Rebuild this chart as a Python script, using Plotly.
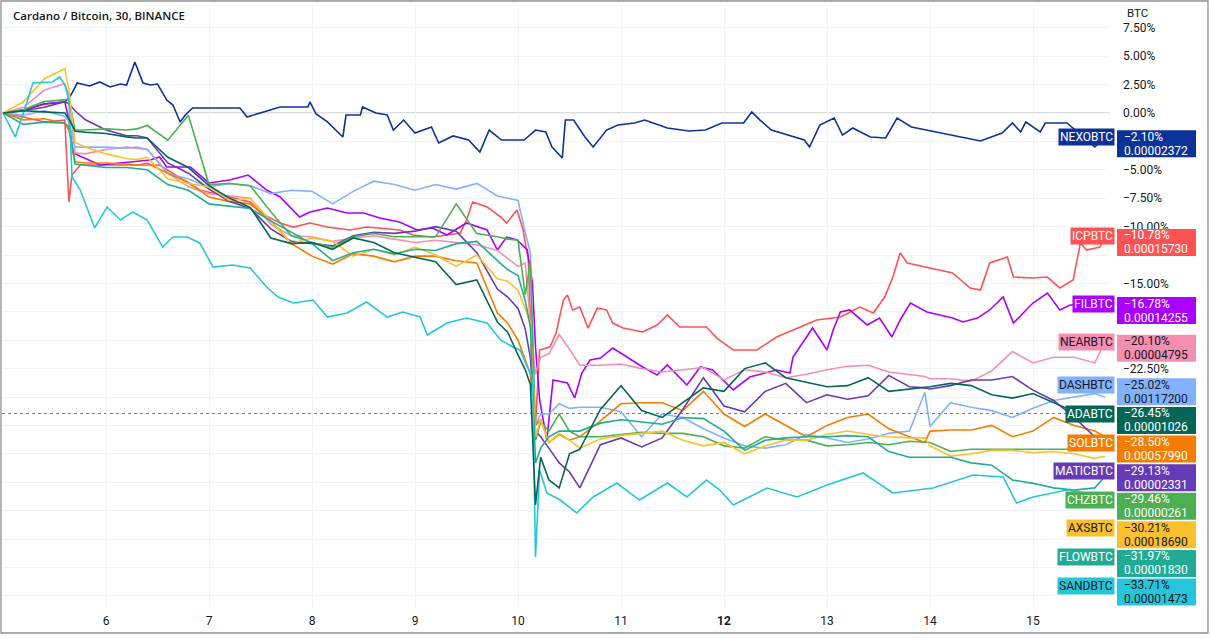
import plotly.graph_objects as go

# ---- data (percent change vs first bar; time in days of the month) ----
T = [5.0, 5.2, 5.4, 5.6, 5.64, 5.7, 5.8, 6.0, 6.2, 6.3, 6.4, 6.6, 6.8, 7.0, 7.2, 7.4, 7.6, 7.8,
     8.0, 8.2, 8.4, 8.6, 8.8, 9.0, 9.2, 9.4, 9.6, 9.8, 9.9, 10.0, 10.07, 10.12, 10.17, 10.22,
     10.3, 10.4, 10.5, 10.6, 10.8, 11.0, 11.2, 11.4, 11.6, 11.8, 12.0, 12.2, 12.4, 12.6, 12.8,
     13.0, 13.2, 13.4, 13.6, 13.8, 13.95, 14.0, 14.2, 14.4, 14.6, 14.8, 15.0, 15.2, 15.4, 15.6, 15.7]

NEXO_T = [5.00, 5.20, 5.40, 5.60, 5.64, 5.67, 5.72, 5.84, 5.94, 6.04, 6.14, 6.20, 6.28, 6.36, 6.43, 6.50,
          6.59, 6.65, 6.72, 6.77, 6.84, 7.30, 7.37, 7.56, 7.69, 7.96, 7.98, 8.04, 8.15, 8.30, 8.33, 8.47,
          8.49, 8.62, 8.73, 8.79, 8.89, 9.00, 9.16, 9.23, 9.37, 9.52, 9.63, 9.72, 9.84, 10.06, 10.17, 10.27,
          10.33, 10.43, 10.46, 10.54, 10.65, 10.73, 10.86, 10.97, 11.13, 11.23, 11.45, 11.66, 11.82, 11.98,
          12.19, 12.27, 12.35, 12.46, 12.62, 12.78, 12.83, 12.93, 13.07, 13.15, 13.25, 13.42, 13.57, 13.68,
          13.82, 14.49, 14.70, 14.80, 14.88, 14.93, 15.07, 15.12, 15.33, 15.60, 15.70]
NEXO = [0.0, 0.26, 0.79, 0.97, 1.32, 1.76, 2.64, 2.38, 2.73, 2.29, 2.55, 2.46, 4.49, 2.64, 2.46, 2.55,
        1.14, 0.70, -0.79, -0.18, 0.44, 0.44, -0.35, 0.18, 0.53, 0.53, 0.97, -0.09, -0.79, -2.11, -0.18, -0.18,
        0.53, 0.0, -0.18, -1.50, -0.62, -1.76, -1.23, -2.64, -2.02, -2.38, -3.43, -1.50, -2.38, -2.38, -1.50, -1.67,
        -2.99, -3.96, -0.62, -0.62, -2.11, -2.99, -1.50, -1.06, -0.88, -0.62, -1.32, -1.58, -1.50, -0.88,
        -0.88, 0.09, -0.62, -1.50, -1.94, -2.38, -2.99, -1.06, -0.44, -1.94, -1.32, -2.11, -2.20, -0.44,
        -1.23, -2.46, -1.76, -0.88, -1.67, -0.79, -1.67, -0.88, -0.88, -2.99, -2.10]

ICP_T = [5.00, 5.20, 5.40, 5.60, 5.64, 5.67, 5.75, 6.52, 6.91, 7.40, 7.50, 7.69, 7.82, 7.98, 8.15, 8.37,
         8.53, 8.85, 8.98, 9.17, 9.31, 9.44, 9.50, 9.56, 9.70, 9.83, 9.89, 9.99, 10.05, 10.10, 10.14, 10.17,
         10.21, 10.31, 10.37, 10.44, 10.48, 10.53, 10.60, 10.68, 10.77, 10.86, 10.92, 11.02, 11.21, 11.35,
         11.45, 11.57, 11.83, 11.93, 12.09, 12.32, 12.51, 12.74, 12.90, 13.13, 13.32, 13.45, 13.56, 13.64,
         13.71, 13.78, 13.97, 14.22, 14.39, 14.49, 14.58, 14.75, 14.81, 15.00, 15.14, 15.26, 15.39, 15.46,
         15.52, 15.65, 15.70]
ICP = [0.0, -0.35, -0.79, -0.62, -7.83, -5.46, -4.58, -4.58, -6.78, -7.83, -8.80, -9.68, -10.04, -9.68, -10.04, -10.30,
       -10.04, -10.30, -10.74, -10.92, -10.74, -10.56, -9.42, -7.83, -8.27, -9.15, -9.68, -8.54, -10.30, -12.94, -23.24, -27.46,
       -20.86, -20.60, -19.37, -16.46, -16.02, -17.34, -17.08, -18.93, -17.17, -17.34, -18.49, -18.93, -19.28, -18.66,
       -17.78, -18.84, -18.84, -19.81, -20.86, -20.86, -19.72, -18.84, -18.22, -17.96, -17.08, -17.61, -16.20, -14.44,
       -12.32, -13.20, -13.56, -14.08, -15.41, -15.58, -13.20, -12.68, -14.44, -14.53, -14.44, -15.41, -14.70, -11.44,
       -12.06, -11.80, -10.78]

FIL_T = [5.00, 5.20, 5.40, 5.60, 5.64, 5.68, 5.94, 6.43, 6.52, 6.59, 6.82, 7.00, 7.20, 7.38, 7.56, 7.69,
         7.88, 7.98, 8.15, 8.34, 8.50, 8.66, 8.85, 9.02, 9.17, 9.31, 9.50, 9.70, 9.80, 9.89, 9.99, 10.09,
         10.14, 10.17, 10.21, 10.28, 10.34, 10.48, 10.55, 10.62, 10.70, 10.80, 10.92, 11.06, 11.21, 11.35,
         11.45, 11.64, 11.77, 11.89, 12.09, 12.25, 12.51, 12.64, 12.67, 12.86, 13.00, 13.06, 13.13, 13.22,
         13.39, 13.51, 13.63, 13.71, 13.81, 13.97, 14.22, 14.32, 14.46, 14.58, 14.71, 14.81, 15.00, 15.14,
         15.26, 15.36, 15.70]
FIL = [0.0, 0.26, 0.79, 0.97, -0.62, -3.52, -4.58, -4.14, -3.87, -4.75, -4.75, -6.16, -5.90, -5.46, -6.78, -7.39,
       -9.15, -8.71, -8.36, -8.80, -8.80, -9.24, -9.59, -10.30, -10.12, -10.74, -9.68, -10.30, -12.06, -10.92, -11.18, -12.06,
       -14.96, -20.60, -25.26, -28.79, -23.50, -23.77, -25.09, -22.89, -21.74, -21.57, -20.69, -21.48, -22.36, -23.06,
       -22.18, -23.94, -22.36, -22.62, -24.38, -23.24, -22.62, -22.89, -21.48, -18.93, -20.86, -19.10, -17.52, -17.34,
       -18.66, -18.05, -19.72, -18.22, -16.73, -17.52, -18.05, -18.40, -18.05, -17.34, -16.20, -18.49, -16.73, -15.85,
       -17.34, -16.90, -16.78]

SAND_T = [5.00, 5.12, 5.23, 5.29, 5.48, 5.55, 5.60, 5.64, 5.67, 5.75, 5.89, 6.01, 6.14, 6.26, 6.40, 6.55,
          6.65, 6.79, 6.91, 7.04, 7.23, 7.40, 7.56, 7.67, 7.82, 8.01, 8.15, 8.34, 8.53, 8.73, 8.88, 9.05,
          9.12, 9.31, 9.50, 9.70, 9.83, 9.95, 10.02, 10.09, 10.14, 10.17, 10.21, 10.28, 10.41, 10.57, 10.73,
          10.96, 11.18, 11.45, 11.64, 11.83, 11.96, 12.09, 12.42, 12.71, 13.00, 13.35, 13.64, 14.03, 14.42,
          14.71, 14.84, 15.00, 15.33, 15.52, 15.70]
SAND = [0.0, -2.11, 0.88, 2.64, 2.73, 3.17, 2.46, 1.14, -5.63, -6.78, -10.12, -8.27, -9.42, -8.71, -9.42, -11.80,
        -10.92, -10.92, -11.44, -13.56, -13.38, -13.64, -15.32, -16.20, -16.73, -16.46, -17.96, -17.61, -16.64, -17.96, -17.52, -17.96,
        -19.54, -18.49, -18.05, -18.49, -19.98, -20.60, -20.86, -22.36, -23.24, -39.08, -31.43, -33.45, -34.07, -35.21, -33.80,
        -32.57, -34.07, -32.57, -33.80, -32.31, -33.19, -34.51, -33.01, -33.80, -32.75, -31.69, -33.45, -33.01, -31.87,
        -32.04, -34.33, -33.80, -33.19, -33.45, -33.71]

NEAR = [0.0, 0.5, 2.0, 2.6, 1.5, -3.5, -3.6, -3.2, -3.0, -3.1, -3.2, -5.3, -6.5, -7.1, -7.3, -7.5, -9.8, -10.8,
        -10.9, -11.3, -11.0, -10.8, -11.1, -11.4, -11.2, -11.4, -11.6, -12.1, -12.8, -13.5, -13.2, -18.5, -23.0, -21.5,
        -21.2, -19.5, -20.8, -22.2, -22.2, -22.1, -22.5, -22.8, -22.6, -22.4, -23.5, -22.6, -22.8, -23.3, -23.0,
        -22.6, -22.3, -22.2, -22.8, -23.0, -23.2, -23.4, -23.4, -23.6, -22.7, -21.0, -22.0, -21.5, -21.5, -22.0, -20.1]

DASH = [0.0, -0.2, 0.2, -0.3, -0.8, -3.0, -3.0, -3.0, -3.1, -3.0, -3.2, -5.3, -5.8, -6.5, -6.2, -6.4, -7.1, -6.8,
        -6.9, -8.0, -6.9, -6.0, -6.3, -6.8, -6.3, -6.7, -6.2, -7.3, -7.5, -7.7, -10.5, -12.3, -27.5, -26.5,
        -26.5, -25.6, -26.0, -25.9, -25.9, -26.3, -28.5, -26.5, -26.8, -27.8, -28.6, -29.3, -29.5, -29.2, -28.3,
        -28.6, -29.0, -28.7, -28.2, -28.0, -24.6, -27.6, -25.5, -25.9, -26.2, -26.8, -26.0, -25.3, -25.0, -24.7, -25.02]

ADA = [0.0, 0.2, 0.1, 0.0, -0.5, -1.6, -1.7, -1.8, -2.1, -2.2, -2.2, -3.9, -4.8, -6.4, -7.5, -8.3, -11.0, -11.5,
       -11.4, -12.0, -11.0, -11.4, -12.3, -12.7, -13.1, -15.1, -14.7, -18.4, -19.3, -21.3, -22.6, -23.9, -34.5, -30.3,
       -32.3, -33.0, -30.0, -29.6, -26.1, -24.0, -26.2, -26.8, -25.5, -24.2, -24.5, -22.5, -22.0, -23.3, -23.7,
       -24.1, -24.0, -23.3, -24.5, -24.3, -24.1, -24.1, -23.8, -24.0, -24.8, -25.1, -24.7, -25.5, -26.3, -26.3, -26.45]

SOL = [0.0, -0.6, -0.5, -0.9, -1.5, -4.3, -4.4, -4.4, -4.5, -4.6, -4.4, -5.3, -6.1, -7.4, -7.8, -8.0, -9.5, -11.5,
       -12.6, -13.3, -12.4, -12.6, -13.1, -12.6, -12.6, -13.0, -13.2, -17.6, -18.5, -20.0, -21.7, -23.0, -27.5, -27.0,
       -29.0, -28.3, -28.8, -28.5, -27.1, -25.6, -25.5, -25.5, -26.2, -24.5, -26.5, -27.6, -26.5, -27.5, -28.5,
       -27.5, -26.8, -26.5, -27.8, -28.5, -29.0, -28.0, -27.9, -27.9, -27.5, -28.5, -28.0, -26.8, -27.5, -28.0, -28.5]

MATIC = [0.0, 0.2, 0.5, 1.0, 0.8, 0.2, -0.6, -1.5, -2.0, -2.0, -2.2, -4.4, -5.3, -6.7, -7.8, -8.4, -10.2, -11.3,
         -11.5, -11.7, -10.8, -10.5, -10.6, -10.4, -10.0, -10.4, -12.3, -15.5, -16.2, -17.2, -19.0, -21.5, -28.0, -28.5,
         -29.5, -30.8, -31.6, -33.0, -29.2, -28.6, -29.4, -28.6, -26.1, -23.3, -25.8, -26.3, -24.5, -23.8, -25.5,
         -24.8, -25.2, -24.9, -23.1, -24.1, -24.2, -24.3, -24.0, -23.5, -23.5, -23.2, -24.4, -25.3, -26.8, -28.5, -29.13]

CHZ = [0.0, 0.3, 1.0, 1.2, 1.2, -1.5, -1.5, -1.4, -1.5, -1.4, -1.1, -2.4, -0.2, -6.3, -6.2, -6.4, -8.7, -10.8,
       -11.4, -11.8, -10.9, -10.6, -10.9, -10.9, -10.9, -8.0, -10.6, -10.9, -11.1, -11.2, -16.0, -13.0, -28.8, -27.2,
       -28.0, -26.5, -28.0, -28.5, -28.5, -28.3, -28.1, -28.2, -28.2, -28.5, -29.3, -29.5, -28.5, -28.8, -28.8,
       -29.3, -29.2, -29.0, -29.2, -28.9, -29.0, -29.0, -29.8, -29.6, -29.6, -29.6, -29.6, -29.6, -29.6, -29.6, -29.46]

AXS = [0.0, 1.0, 3.0, 3.9, 2.0, -2.6, -3.0, -3.6, -4.0, -4.1, -3.9, -5.8, -6.2, -6.5, -7.7, -7.5, -9.5, -11.5,
       -11.0, -11.3, -12.6, -12.0, -12.5, -11.8, -12.5, -13.5, -12.5, -14.6, -14.8, -15.6, -17.2, -18.5, -28.5, -27.0,
       -29.0, -28.2, -28.8, -29.5, -28.7, -28.4, -28.2, -28.0, -28.8, -29.3, -29.0, -30.0, -29.3, -28.8, -28.8,
       -28.3, -28.0, -28.3, -28.5, -28.6, -28.6, -29.3, -30.2, -30.0, -29.7, -29.7, -29.9, -29.8, -30.0, -30.4, -30.21]

FLOW = [0.0, -1.0, -0.8, -0.9, -1.2, -4.5, -4.6, -4.8, -4.8, -4.9, -5.0, -6.3, -6.8, -8.0, -8.2, -8.4, -9.5, -10.5,
        -11.5, -13.0, -12.3, -12.0, -12.4, -12.0, -12.1, -11.5, -11.3, -13.0, -13.8, -14.3, -16.5, -18.8, -30.8, -29.5,
        -28.5, -28.0, -28.0, -28.0, -27.3, -27.0, -27.2, -27.4, -26.8, -26.9, -28.0, -29.7, -28.8, -28.6, -28.5,
        -28.5, -28.4, -28.5, -29.8, -30.3, -30.3, -30.3, -30.3, -30.8, -31.0, -32.3, -32.6, -33.0, -33.2, -33.0, -31.97]

NAMES = ["NEXOBTC", "ICPBTC", "FILBTC", "NEARBTC", "DASHBTC", "ADABTC",
         "SOLBTC", "MATICBTC", "CHZBTC", "AXSBTC", "FLOWBTC", "SANDBTC"]
LAST_PRICES = ["0.00002372", "0.00015730", "0.00014255", "0.00004795", "0.00117200", "0.00001026",
               "0.00057990", "0.00002331", "0.00000261", "0.00018690", "0.00001830", "0.00001473"]
X_TICKS = [5, 6, 7, 8, 9, 10, 11, 12, 13, 14, 15]
X_TICK_TEXT = ["5", "6", "7", "8", "9", "10", "11", "<b>12</b>", "13", "14", "15"]
Y_TICKS = [7.5 - 2.5 * i for i in range(21)]

SERIES = [NEXO, ICP, FIL, NEAR, DASH, ADA, SOL, MATIC, CHZ, AXS, FLOW, SAND]
TIMES = [NEXO_T, ICP_T, FIL_T, T, T, T, T, T, T, T, T, SAND_T]
COLORS = ["#0c3299", "#ff5252", "#aa00ff", "#f48fb1", "#82b1ff", "#056656",
          "#f57c00", "#673ab7", "#4caf50", "#fbc02d", "#22ab94", "#26c6da"]
TEXT_COLORS = ["#ffffff", "#ffffff", "#ffffff", "#131722", "#131722", "#ffffff",
               "#ffffff", "#ffffff", "#ffffff", "#131722", "#ffffff", "#131722"]
MAIN = "ADABTC"

# ---- geometry ----
W, H = 1211, 638
ML, MR, MT, MB = 2, 101, 5, 30
PLOT_W = W - ML - MR
PLOT_H = H - MT - MB
PX_PER_DAY = 103.0
PX_PER_PCT = 11.36
X0 = 5.0 - 1.0 / PX_PER_DAY          # day 5 sits 1px in from plot edge
X_RANGE = [X0, X0 + PLOT_W / PX_PER_DAY]
Y_TOP = (113 - MT) / PX_PER_PCT        # 0 % line at 113 px from the top
Y_RANGE = [Y_TOP - PLOT_H / PX_PER_PCT, Y_TOP]


def fmt_pct(v):
    s = f"{abs(v):.2f}%"
    return ("\u2212" + s) if v < 0 else s


def paper_x(px):
    return (px - ML) / PLOT_W


def paper_y(py):
    return (H - MB - py) / PLOT_H


def data_to_paper_y(v):
    return (v - Y_RANGE[0]) / (Y_RANGE[1] - Y_RANGE[0])


fig = go.Figure()

order = [0, 1, 2, 3, 4, 6, 7, 8, 9, 10, 11, 5]
for i in order:
    fig.add_trace(go.Scatter(x=TIMES[i], y=SERIES[i], mode="lines", name=NAMES[i],
                             line=dict(color=COLORS[i], width=1.6),
                             hoverinfo="skip", showlegend=False))

# ---- label stacking (main symbol fixed, others pushed away) ----
last = [s[-1] for s in SERIES]
idx = sorted(range(len(last)), key=lambda k: -last[k])
pitch = 28.6 / PX_PER_PCT
pos = {k: last[k] for k in idx}
m = idx.index(NAMES.index(MAIN))
for j in range(m + 1, len(idx)):
    pos[idx[j]] = min(last[idx[j]], pos[idx[j - 1]] - pitch)
for j in range(m - 1, -1, -1):
    pos[idx[j]] = max(last[idx[j]], pos[idx[j + 1]] + pitch)

BOX_UP = 6.5 / PX_PER_PCT
BOX_DN = 20.5 / PX_PER_PCT


def tick_hidden(v):
    for k in range(len(NAMES)):
        p = pos[k]
        if p - BOX_DN - 0.1 < v < p + BOX_UP - 0.3:
            return True
    return False


y_tick_text = ["" if tick_hidden(v) else fmt_pct(v) for v in Y_TICKS]

shapes = []
annotations = []

# zero baseline
shapes.append(dict(type="line", xref="paper", yref="y", x0=0, x1=1, y0=0, y1=0,
                   line=dict(color="#b8bbc3", width=1), layer="below"))
# main symbol price line
shapes.append(dict(type="line", xref="paper", yref="y", x0=0, x1=1,
                   y0=last[NAMES.index(MAIN)], y1=last[NAMES.index(MAIN)],
                   line=dict(color="#3f8f7c", width=1, dash="dot"), layer="below"))

FONT = "Roboto, Arial, sans-serif"
for k in range(len(NAMES)):
    p = pos[k]
    py_anchor = data_to_paper_y(p)
    shapes.append(dict(type="rect", xref="paper", yref="paper",
                       xsizemode="pixel", ysizemode="pixel",
                       xanchor=1, yanchor=py_anchor,
                       x0=7, x1=86, y0=-20.5, y1=6.5,
                       fillcolor=COLORS[k], line=dict(width=0)))
    annotations.append(dict(x=1, xref="paper", xanchor="right", xshift=5,
                            y=p, yref="y", yanchor="middle", yshift=-0.5,
                            text=NAMES[k], showarrow=False, bgcolor=COLORS[k],
                            borderpad=1, font=dict(family=FONT, size=12, color=TEXT_COLORS[k])))
    annotations.append(dict(x=1, xref="paper", xanchor="left", xshift=12,
                            y=p, yref="y", yanchor="middle", yshift=0,
                            text=fmt_pct(last[k]), showarrow=False,
                            font=dict(family=FONT, size=12, color=TEXT_COLORS[k])))
    annotations.append(dict(x=1, xref="paper", xanchor="left", xshift=12,
                            y=p, yref="y", yanchor="middle", yshift=-14,
                            text=LAST_PRICES[k], showarrow=False,
                            font=dict(family=FONT, size=12, color=TEXT_COLORS[k])))

# title and unit
annotations.append(dict(x=paper_x(11), y=paper_y(15), xref="paper", yref="paper",
                        xanchor="left", yanchor="middle", showarrow=False,
                        text="Cardano / Bitcoin, 30, BINANCE",
                        font=dict(family="Open Sans, sans-serif", size=11.5, color="#131722", weight=600)))
annotations.append(dict(x=paper_x(1125), y=paper_y(13), xref="paper", yref="paper",
                        xanchor="left", yanchor="middle", showarrow=False, text="BTC",
                        font=dict(family=FONT, size=11.5, color="#131722")))

# outer frame
shapes.append(dict(type="rect", xref="paper", yref="paper",
                   x0=paper_x(1), x1=paper_x(1208), y0=paper_y(633), y1=paper_y(1),
                   line=dict(color="#8f8f8f", width=1.3), fillcolor="rgba(0,0,0,0)"))

fig.update_layout(
    width=W, height=H,
    margin=dict(l=ML, r=MR, t=MT, b=MB, autoexpand=False),
    paper_bgcolor="#ffffff", plot_bgcolor="#ffffff",
    shapes=shapes, annotations=annotations,
    xaxis=dict(range=X_RANGE, tickvals=X_TICKS, ticktext=X_TICK_TEXT, automargin=False,
               showgrid=True, gridcolor="#f0f3fa", gridwidth=1, zeroline=False,
               showline=False, ticks="", ticklabelstandoff=4,
               tickfont=dict(family=FONT, size=12, color="#131722"), fixedrange=True),
    yaxis=dict(range=Y_RANGE, side="right", tickvals=Y_TICKS, ticktext=y_tick_text,
               automargin=False,
               showgrid=True, gridcolor="#f0f3fa", gridwidth=1, zeroline=False,
               showline=False, ticks="", ticklabelstandoff=12,
               tickfont=dict(family=FONT, size=12, color="#131722"), fixedrange=True),
    showlegend=False,
)

fig.write_html("out.html", config={"displayModeBar": False},
               post_script="document.body.style.margin='0px';")
